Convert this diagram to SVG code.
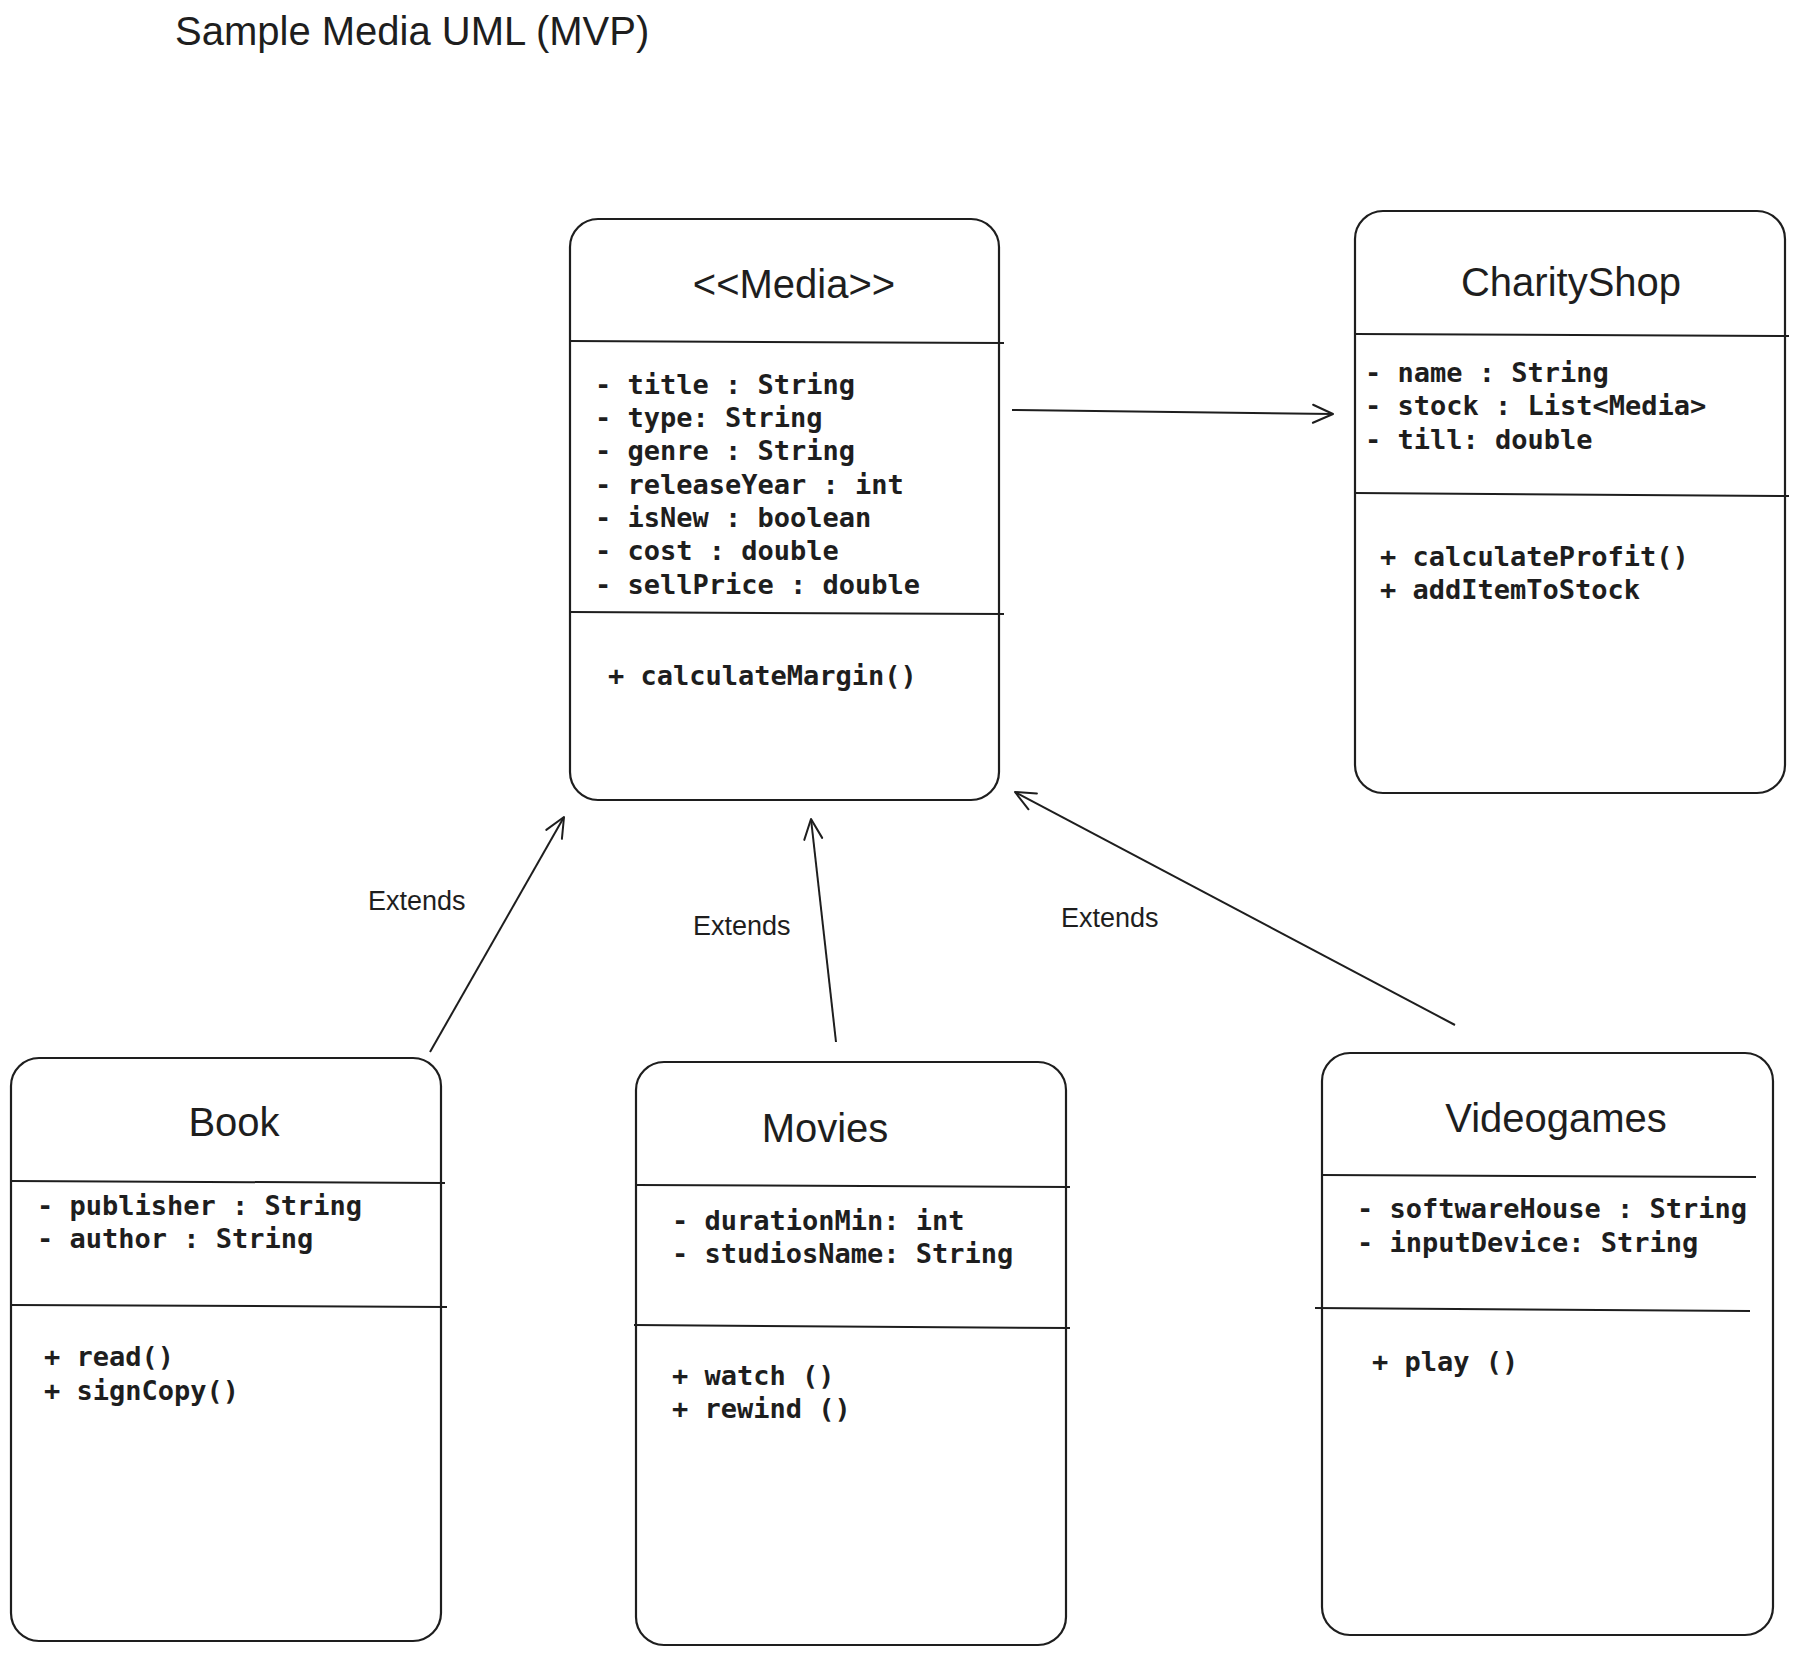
<svg xmlns="http://www.w3.org/2000/svg" width="1799" height="1655" viewBox="0 0 1799 1655">
<defs>
<marker id="open" viewBox="0 0 24 24" refX="22" refY="12" markerWidth="24" markerHeight="24" markerUnits="userSpaceOnUse" orient="auto">
<path d="M2,3 L22,12 L2,21" fill="none" stroke="#1e1e1e" stroke-width="2" stroke-linecap="round" stroke-linejoin="round"/>
</marker>
<style>
.box{fill:#fff;stroke:#1e1e1e;stroke-width:2.2}
.div{stroke:#1e1e1e;stroke-width:2}
.name{font-family:"Liberation Sans",Arial,sans-serif;font-size:40px;fill:#1e1e1e;text-anchor:middle}
.mono{font-family:"DejaVu Sans Mono","Liberation Mono",monospace;font-size:27px;fill:#1e1e1e;font-weight:bold}
.lbl{font-family:"Liberation Sans",Arial,sans-serif;font-size:27px;fill:#1e1e1e}
.conn{stroke:#1e1e1e;stroke-width:2;fill:none;marker-end:url(#open)}
</style>
</defs>
<rect width="1799" height="1655" fill="#fff"/>
<text x="175" y="45" font-family="Liberation Sans, Arial, sans-serif" font-size="40" fill="#1e1e1e">Sample Media UML (MVP)</text>

<g id="media">
<rect class="box" x="570" y="219" width="429" height="581" rx="28"/>
<line class="div" x1="570" y1="341" x2="1004" y2="343"/>
<line class="div" x1="570" y1="612" x2="1004" y2="614"/>
<text class="name" x="794" y="298">&lt;&lt;Media&gt;&gt;</text>
<text class="mono" x="595" y="394">- title : String</text>
<text class="mono" x="595" y="427">- type: String</text>
<text class="mono" x="595" y="460">- genre : String</text>
<text class="mono" x="595" y="494">- releaseYear : int</text>
<text class="mono" x="595" y="527">- isNew : boolean</text>
<text class="mono" x="595" y="560">- cost : double</text>
<text class="mono" x="595" y="594">- sellPrice : double</text>
<text class="mono" x="608" y="685">+ calculateMargin()</text>
</g>

<g id="charityshop">
<rect class="box" x="1355" y="211" width="430" height="582" rx="28"/>
<line class="div" x1="1355" y1="334" x2="1789" y2="336"/>
<line class="div" x1="1355" y1="493" x2="1789" y2="496"/>
<text class="name" x="1571" y="296">CharityShop</text>
<text class="mono" x="1365" y="382">- name : String</text>
<text class="mono" x="1365" y="415">- stock : List&lt;Media&gt;</text>
<text class="mono" x="1365" y="449">- till: double</text>
<text class="mono" x="1380" y="566">+ calculateProfit()</text>
<text class="mono" x="1380" y="599">+ addItemToStock</text>
</g>

<g id="book">
<rect class="box" x="11" y="1058" width="430" height="583" rx="28"/>
<line class="div" x1="11" y1="1181" x2="445" y2="1183"/>
<line class="div" x1="11" y1="1305" x2="447" y2="1307"/>
<text class="name" x="234" y="1136">Book</text>
<text class="mono" x="37" y="1215">- publisher : String</text>
<text class="mono" x="37" y="1248">- author : String</text>
<text class="mono" x="44" y="1366">+ read()</text>
<text class="mono" x="44" y="1400">+ signCopy()</text>
</g>

<g id="movies">
<rect class="box" x="636" y="1062" width="430" height="583" rx="28"/>
<line class="div" x1="636" y1="1185" x2="1070" y2="1187"/>
<line class="div" x1="634" y1="1325" x2="1070" y2="1328"/>
<text class="name" x="825" y="1142">Movies</text>
<text class="mono" x="672" y="1230">- durationMin: int</text>
<text class="mono" x="672" y="1263">- studiosName: String</text>
<text class="mono" x="672" y="1385">+ watch ()</text>
<text class="mono" x="672" y="1418">+ rewind ()</text>
</g>

<g id="videogames">
<rect class="box" x="1322" y="1053" width="451" height="582" rx="28"/>
<line class="div" x1="1322" y1="1175" x2="1756" y2="1177"/>
<line class="div" x1="1315" y1="1308" x2="1750" y2="1311"/>
<text class="name" x="1556" y="1132">Videogames</text>
<text class="mono" x="1357" y="1218">- softwareHouse : String</text>
<text class="mono" x="1357" y="1252">- inputDevice: String</text>
<text class="mono" x="1372" y="1371">+ play ()</text>
</g>

<g id="connectors">
<line class="conn" x1="1012" y1="410" x2="1333" y2="414"/>
<line class="conn" x1="430" y1="1052" x2="564" y2="817"/>
<line class="conn" x1="836" y1="1042" x2="811" y2="819"/>
<line class="conn" x1="1455" y1="1025" x2="1015" y2="792"/>
<text class="lbl" x="368" y="910">Extends</text>
<text class="lbl" x="693" y="935">Extends</text>
<text class="lbl" x="1061" y="927">Extends</text>
</g>
</svg>
